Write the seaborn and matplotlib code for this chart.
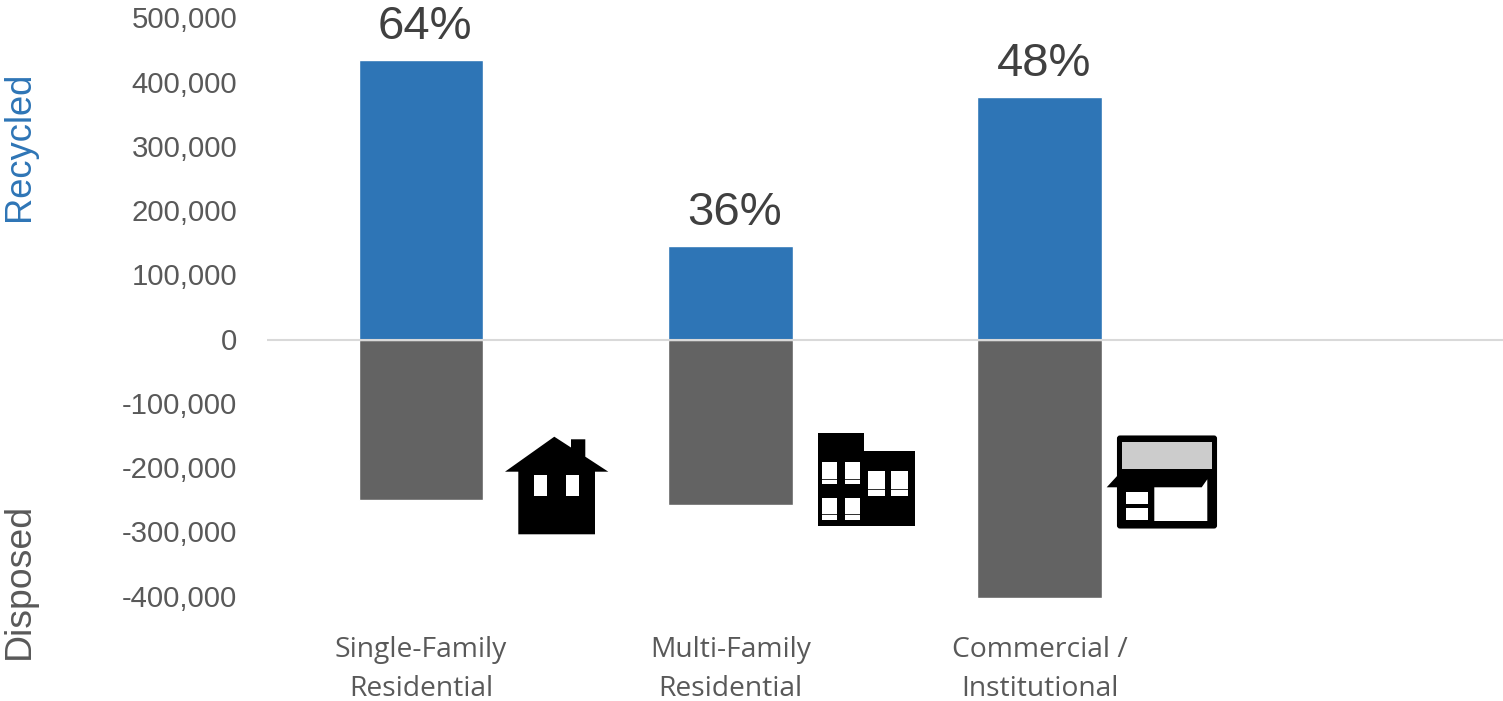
import numpy as np
import pandas as pd
import seaborn as sns
import matplotlib
matplotlib.use("Agg")
import matplotlib.pyplot as plt
from matplotlib.patches import Polygon, Rectangle, FancyBboxPatch
from matplotlib.transforms import ScaledTranslation

categories = ["Single-Family\nResidential", "Multi-Family\nResidential", "Commercial /\nInstitutional"]
recycled = [436000, 146000, 378000]
disposed = [-249500, -257000, -401500]
percent_labels = ["64%", "36%", "48%"]
y_ticks = [500000, 400000, 300000, 200000, 100000, 0, -100000, -200000, -300000, -400000]

W, H = 1503, 701
BLUE, GRAY, TXT = "#2E75B6", "#636363", "#595959"

sns.set_theme(style="white")
plt.rcParams["font.family"] = ["Liberation Sans", "DejaVu Sans"]

fig = plt.figure(figsize=(W / 100, H / 100), dpi=100, facecolor="white")
top_px, bot_px, left_px, right_px = 19, 598, 266.5, 1503.5
ax = fig.add_axes([left_px / W, 1 - bot_px / H, (right_px - left_px) / W, (bot_px - top_px) / H])
ax.patch.set_alpha(0)

df = pd.DataFrame({"category": categories, "recycled": recycled, "disposed": disposed})
sns.barplot(data=df, x="category", y="recycled", color=BLUE, width=0.402, saturation=1, ax=ax)
sns.barplot(data=df, x="category", y="disposed", color=GRAY, width=0.402, saturation=1, ax=ax)

ax.set_xlim(-0.5, 3.5)
ax.set_ylim(-401500, 500000)
ax.set_xlabel("")
ax.set_ylabel("")
sns.despine(ax=ax, left=True, bottom=True, top=True, right=True)
ax.axhline(0, color="#D9D9D9", lw=1.5, zorder=5)

ax.set_yticks(y_ticks)
ax.set_yticklabels([f"{v:,}" for v in y_ticks], fontsize=21.2, color=TXT)
ax.tick_params(axis="y", length=0, pad=21)
for lab in ax.get_yticklabels():
    lab.set_verticalalignment("center")
    lab.set_transform(lab.get_transform() + ScaledTranslation(0, -1.5 / 100, fig.dpi_scale_trans))
ax.set_xticks(range(3))
ax.set_xticklabels(categories, fontsize=20.3, color=TXT, family="Open Sans", linespacing=1.52)
ax.tick_params(axis="x", length=0, pad=27.5)

for i, (val, lab) in enumerate(zip(recycled, percent_labels)):
    ax.annotate(lab, (i, val), xytext=(3, 8), textcoords="offset points", ha="center", va="bottom",
                fontsize=34, color="#404040", annotation_clip=False)

fig.text(19 / W, 1 - 146 / H, "Recycled", rotation=90, ha="center", va="center", fontsize=26.2, color=BLUE)
fig.text(19 / W, 1 - 580.5 / H, "Disposed", rotation=90, ha="center", va="center", fontsize=26.9, color=TXT)

# Decorative icons, drawn in a pixel-space overlay
ic = fig.add_axes([0, 0, 1, 1], zorder=10)
ic.set_xlim(0, W)
ic.set_ylim(H, 0)
ic.axis("off")
ic.patch.set_alpha(0)

def rect(x0, y0, x1, y1, c="white"):
    ic.add_patch(Rectangle((x0, y0), x1 - x0, y1 - y0, fc=c, ec="none"))

# house
ic.add_patch(Polygon([(505, 471.7), (554.3, 436.7), (571, 447.5), (571, 439.3), (585.3, 439.3),
                      (585.3, 456.7), (608.3, 471.7), (595, 471.7), (595, 534.3), (518.3, 534.3),
                      (518.3, 471.7)], fc="black", ec="none"))
rect(533.7, 475, 546.7, 495.7)
rect(566.3, 475, 579.3, 495.7)

# apartment building
ic.add_patch(Polygon([(817.7, 433.3), (864, 433.3), (864, 450.7), (915.3, 450.7), (915.3, 526),
                      (817.7, 526)], fc="black", ec="none"))
for x0, x1 in [(822.3, 837), (845, 860)]:
    rect(x0, 462.3, x1, 484)
    rect(x0, 479, x1, 480.2, "#333333")
    rect(x0, 498, x1, 519.7)
    rect(x0, 514, x1, 515.2, "#333333")
for x0, x1 in [(867.7, 884.7), (891, 908)]:
    rect(x0, 471.3, x1, 496)
    rect(x0, 489, x1, 490.2, "#333333")

# shop
ic.add_patch(FancyBboxPatch((1118, 436.5), 98, 91, boxstyle="round,pad=0,rounding_size=2",
                            fc="black", ec="black", lw=1.5))
rect(1121.7, 441.7, 1211.7, 469.3, "#CCCCCC")
ic.add_patch(Polygon([(1106.7, 487.3), (1118, 475), (1118, 487.3)], fc="black", ec="none"))
ic.add_patch(Polygon([(1154.3, 487.3), (1201.7, 487.3), (1207.3, 479.3), (1207.3, 521), (1154.3, 521)],
                     fc="white", ec="none"))
rect(1125.7, 492.3, 1148.3, 504)
rect(1125.7, 508.3, 1148.3, 520)

fig.savefig("out.png", dpi=100, facecolor="white")
